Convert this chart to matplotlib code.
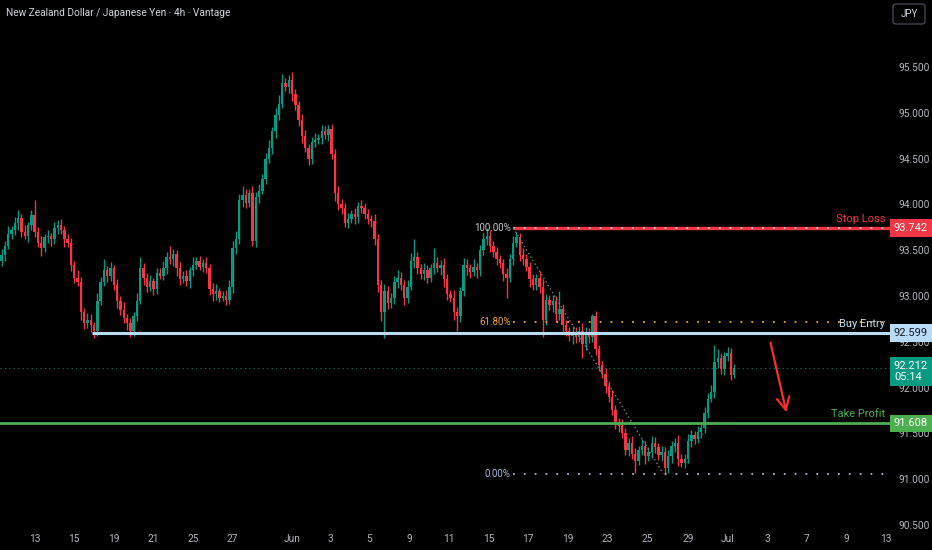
import matplotlib
matplotlib.use("Agg")
import matplotlib.pyplot as plt
import matplotlib.transforms as mtransforms
from matplotlib.patches import FancyBboxPatch
import numpy as np

plt.rcParams['font.family'] = ['Roboto', 'DejaVu Sans']

# --- Data (NZD/JPY, 4h candles) ---
first_open = 93.38
closes = [
    93.45, 93.55, 93.68, 93.72, 93.80, 93.85, 93.70, 93.66, 93.77, 93.88,
    93.70, 93.58, 93.52, 93.64, 93.66, 93.62, 93.74, 93.78, 93.72, 93.62,
    93.58, 93.34, 93.20, 93.15, 92.82, 92.70, 92.74, 92.68, 92.62, 92.95,
    93.15, 93.28, 93.22, 93.30, 93.12, 92.95, 92.85, 92.76, 92.70, 92.62,
    92.78, 92.95, 93.30, 93.20, 93.10, 93.16, 93.08, 93.25, 93.22, 93.30,
    93.42, 93.40, 93.46, 93.30, 93.18, 93.22, 93.16, 93.28, 93.34, 93.38,
    93.32, 93.36, 93.30, 93.08, 93.02, 93.05, 92.98, 93.00, 92.96, 93.10,
    93.52, 93.62, 94.05, 94.10, 94.02, 94.12, 93.60, 94.08, 94.15, 94.28,
    94.50, 94.62, 94.80, 94.98, 95.10, 95.32, 95.28, 95.36, 95.20, 95.08,
    94.92, 94.75, 94.62, 94.50, 94.68, 94.70, 94.72, 94.80, 94.76, 94.82,
    94.55, 94.12, 94.00, 93.96, 93.80, 93.84, 93.90, 93.86, 93.98, 93.96,
    93.90, 93.84, 93.82, 93.62, 93.12, 92.82, 93.05, 92.92, 92.98, 93.15,
    93.20, 93.12, 92.98, 93.10, 93.38, 93.42, 93.30, 93.24, 93.28, 93.20,
    93.30, 93.36, 93.30, 93.34, 93.18, 93.02, 92.98, 92.82, 92.78, 93.05,
    93.34, 93.30, 93.26, 93.32, 93.28, 93.50, 93.62, 93.66, 93.55, 93.48,
    93.40, 93.36, 93.24, 93.20, 93.40, 93.58, 93.64, 93.45, 93.40, 93.32,
    93.18, 93.12, 93.20, 93.10, 92.74, 92.96, 92.90, 92.94, 92.80, 92.86,
    92.68, 92.62, 92.56, 92.60, 92.55, 92.62, 92.48, 92.60, 92.55, 92.78,
    92.42, 92.25, 92.15, 92.02, 91.90, 91.75, 91.62, 91.58, 91.50, 91.32,
    91.40, 91.28, 91.20, 91.32, 91.36, 91.25, 91.30, 91.40, 91.35, 91.26,
    91.30, 91.12, 91.25, 91.36, 91.40, 91.22, 91.18, 91.22, 91.42, 91.48,
    91.44, 91.52, 91.56, 91.72, 91.88, 91.95, 92.28, 92.32, 92.20, 92.34,
    92.38, 92.14, 92.212,
]
# wick lengths above / below the body, in pips (0.01 JPY)
wick_up = [
    6, 5, 8, 4, 6, 9, 5, 7, 4, 6,
    17, 5, 8, 4, 6, 3, 7, 5, 6, 4,
    6, 5, 4, 8, 6, 5, 7, 6, 4, 8,
    6, 12, 5, 7, 4, 6, 5, 8, 4, 6,
    5, 8, 12, 6, 5, 7, 4, 6, 5, 8,
    6, 13, 5, 4, 7, 5, 6, 4, 8, 5,
    6, 4, 7, 5, 6, 8, 4, 5, 6, 7,
    8, 9, 6, 10, 7, 5, 8, 6, 7, 5,
    6, 8, 5, 7, 9, 10, 6, 5, 8, 6,
    5, 7, 6, 4, 6, 8, 5, 7, 6, 5,
    6, 5, 8, 6, 5, 7, 4, 6, 5, 7,
    6, 5, 4, 7, 6, 5, 8, 6, 5, 7,
    8, 6, 5, 7, 9, 20, 6, 5, 8, 6,
    5, 16, 6, 5, 7, 6, 5, 8, 6, 5,
    7, 6, 5, 8, 4, 6, 7, 8, 6, 5,
    6, 5, 4, 7, 6, 8, 6, 5, 7, 6,
    5, 6, 4, 7, 8, 6, 5, 7, 6, 19,
    5, 6, 4, 7, 6, 5, 8, 6, 5, 2,
    6, 5, 4, 6, 5, 7, 6, 5, 8, 6,
    5, 7, 6, 4, 8, 6, 5, 7, 6, 5,
    6, 5, 7, 6, 5, 8, 6, 5, 7, 6,
    5, 6, 4, 7, 6, 8, 18, 10, 6, 5,
    6, 5, 4,
]
wick_dn = [
    5, 7, 4, 6, 5, 8, 6, 4, 7, 5,
    6, 5, 8, 4, 6, 7, 5, 6, 4, 8,
    5, 7, 6, 4, 8, 6, 5, 7, 8, 6,
    5, 4, 7, 6, 5, 8, 6, 5, 7, 7,
    6, 5, 4, 8, 6, 5, 7, 6, 4, 5,
    6, 5, 7, 8, 6, 4, 5, 7, 6, 5,
    4, 6, 5, 7, 8, 6, 5, 4, 6, 5,
    7, 6, 5, 8, 6, 5, 5, 7, 6, 4,
    6, 5, 7, 8, 6, 5, 4, 6, 7, 5,
    6, 8, 5, 7, 6, 5, 4, 6, 5, 7,
    5, 8, 6, 7, 5, 6, 4, 7, 6, 5,
    6, 5, 7, 6, 8, 9, 28, 6, 5, 7,
    6, 5, 8, 6, 4, 7, 6, 5, 7, 6,
    5, 6, 4, 7, 8, 6, 5, 8, 16, 6,
    5, 7, 6, 4, 8, 6, 5, 6, 7, 5,
    6, 5, 8, 22, 5, 6, 4, 7, 6, 5,
    8, 6, 5, 7, 19, 6, 5, 7, 8, 6,
    7, 6, 5, 8, 6, 5, 16, 7, 6, 5,
    6, 7, 5, 8, 6, 5, 7, 6, 5, 6,
    7, 6, 13, 5, 6, 8, 5, 7, 6, 5,
    6, 6, 5, 7, 6, 8, 5, 6, 4, 7,
    6, 5, 7, 6, 5, 4, 6, 7, 5, 6,
    5, 6, 4,
]

date_labels = ['13', '15', '19', '21', '25', '27', 'Jun', '3', '5', '9', '11',
               '15', '17', '19', '23', '25', '29', 'Jul', '3', '7', '9', '13']
date_pos = [10, 22, 34, 46, 58, 70, 88, 99.5, 111.5, 123.5, 135.5,
            147.5, 159.5, 171.5, 183.5, 195.5, 208, 220, 232, 244, 256, 268]
price_ticks = [95.5, 95.0, 94.5, 94.0, 93.5, 93.0, 92.5, 92.0, 91.5, 91.0, 90.5]

stop_loss = 93.742
buy_entry = 92.599
take_profit = 91.608
last_price = 92.212
countdown = '05:14'
fib_high = 93.742
fib_low = 91.06
fib_levels = [(1.0, '100.00%'), (0.618, '61.80%'), (0.0, '0.00%')]

title = 'New Zealand Dollar / Japanese Yen \u00b7 4h \u00b7 Vantage'

# --- Colours ---
BG = '#000000'
UP = '#089981'
DOWN = '#f23645'
TXT = '#b2b5be'

# --- Build OHLC ---
c = np.array(closes)
o = np.concatenate([[first_open], c[:-1]])
hi = np.maximum(o, c) + np.array(wick_up) / 100
lo = np.minimum(o, c) - np.array(wick_dn) / 100
idx = np.arange(len(c))
cols = np.where(c >= o, UP, DOWN)

# --- Figure ---
fig = plt.figure(figsize=(9.32, 5.5), dpi=100, facecolor=BG)
ax = fig.add_axes([0, 22 / 550, 890 / 932, 528 / 550])
ax.set_facecolor(BG)
xmin, xmax = -0.5, 269.2
ax.set_xlim(xmin, xmax)
ax.set_ylim(90.467, 96.231)
for s in ax.spines.values():
    s.set_visible(False)

# candles
ax.vlines(idx, lo, hi, colors=cols, lw=1, zorder=3)
body = np.maximum(np.abs(c - o), 0.012)
ax.bar(idx, body, bottom=np.minimum(o, c), width=0.72, color=cols, lw=0, zorder=3)

# current price line
ax.axhline(last_price, color=UP, lw=0.8, ls=(0, (1, 3)), alpha=0.8, zorder=2)

# fibonacci retracement
fib_start, fib_end = 155, 200.5
for lvl, lab in fib_levels:
    p = fib_low + lvl * (fib_high - fib_low)
    if lvl == 0.618:
        fc = '#f0a030'
    elif lvl == 0.0:
        fc = '#a8b2d8'
    else:
        fc = '#c8cad2'
    if lvl == 1.0:
        ax.hlines(stop_loss, fib_start, xmax, color=DOWN, lw=2.4, zorder=4)
    ax.hlines(p, fib_start, xmax, color=fc, lw=1.3, linestyles=[(0, (1, 5))], zorder=5)
    ax.text(fib_start - 0.8, p, lab, ha='right', va='center', color=fc, fontsize=7, zorder=6)
ax.plot([fib_start, fib_end], [fib_high, fib_low], color='#787b86', lw=1, ls=(0, (1, 2)), zorder=5)

# trade levels
ax.hlines(buy_entry, 27.5, xmax, color='#b8dcf5', lw=2.2, zorder=4)
ax.axhline(take_profit, color='#4caf50', lw=2, zorder=4)

lab_x = 267.7
ax.annotate('Stop Loss', xy=(lab_x, stop_loss), xytext=(0, 3), textcoords='offset points',
            ha='right', va='bottom', color=DOWN, fontsize=8, zorder=6)
ax.annotate('Buy Entry', xy=(lab_x, buy_entry), xytext=(0, 3), textcoords='offset points',
            ha='right', va='bottom', color='#c4dcf0', fontsize=8, zorder=6)
ax.annotate('Take Profit', xy=(lab_x, take_profit), xytext=(0, 3), textcoords='offset points',
            ha='right', va='bottom', color='#4caf50', fontsize=8, zorder=6)

# hand drawn arrow
ax.annotate('', xy=(238, 91.70), xytext=(232.8, 92.52),
            arrowprops=dict(arrowstyle='->,head_length=0.9,head_width=0.45',
                            color='#f5302c', lw=1.6), zorder=6)

# axes ticks
ax.yaxis.tick_right()
ax.set_yticks(price_ticks)
ax.set_yticklabels([f'{v:.3f}' for v in price_ticks])
ax.tick_params(axis='y', length=0, pad=6, labelsize=7.3, colors=TXT)
ax.set_xticks(date_pos)
ax.set_xticklabels(date_labels)
ax.tick_params(axis='x', length=0, pad=4, labelsize=7.3, colors=TXT)

# price tags on the right scale
trans = mtransforms.blended_transform_factory(fig.transFigure, ax.transData)
tag_x = 894 / 932
tag_box = dict(boxstyle='square,pad=0.35', ec='none')
ax.text(tag_x, stop_loss, f'{stop_loss:.3f}', transform=trans, ha='left', va='center',
        color='white', fontsize=8, clip_on=False, zorder=10,
        bbox=dict(tag_box, fc=DOWN))
ax.text(tag_x, buy_entry, f'{buy_entry:.3f}', transform=trans, ha='left', va='center',
        color='#131722', fontsize=8, clip_on=False, zorder=10,
        bbox=dict(tag_box, fc='#b8dcf5'))
ax.text(tag_x, take_profit, f'{take_profit:.3f}', transform=trans, ha='left', va='center',
        color='white', fontsize=8, clip_on=False, zorder=10,
        bbox=dict(tag_box, fc='#4caf50'))
ax.annotate(f'{last_price:.3f}\n{countdown}', xy=(tag_x, last_price), xycoords=trans,
            xytext=(0, 5.5), textcoords='offset points', ha='left', va='top',
            color='white', fontsize=8, linespacing=1.2, annotation_clip=False, zorder=10,
            bbox=dict(tag_box, fc=UP))

# title and currency button
fig.text(6 / 932, 1 - 13 / 550, title, color='#d1d4dc', fontsize=7.3, va='center')
fig.add_artist(FancyBboxPatch((893 / 932, 1 - 24 / 550), 32 / 932, 20 / 550,
                              boxstyle='round,pad=0,rounding_size=0.004',
                              transform=fig.transFigure, fc=BG, ec='#434651', lw=1))
fig.text(909 / 932, 1 - 14 / 550, 'JPY', color='#d1d4dc', fontsize=7, ha='center', va='center')

fig.savefig('out.png', dpi=100, facecolor=BG)
